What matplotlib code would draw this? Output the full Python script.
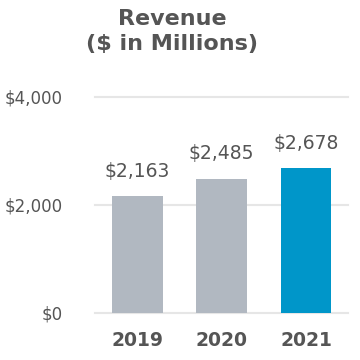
import matplotlib.pyplot as plt
import numpy as np

years = ['2019', '2020', '2021']
revenue = [2163, 2485, 2678]
bar_colors = ['#B1B8C1', '#B1B8C1', '#0096C9']
yticks = [0, 2000, 4000]
ytick_labels = ['$0', '$2,000', '$4,000']

text_color = '#555555'

fig = plt.figure(figsize=(3.6, 3.6), dpi=100)
ax = fig.add_axes([0.264, 0.131, 0.703, 0.6])

x = np.arange(len(years))
bars = ax.bar(x, revenue, width=0.6, color=bar_colors, zorder=3)

ax.set_xlim(-0.5, 2.5)
ax.set_ylim(0, 4000)
ax.set_yticks(yticks)
ax.set_yticklabels(ytick_labels)
ax.set_xticks(x)
ax.set_xticklabels(years, fontweight='bold', fontsize=13.5, color=text_color)

for v in yticks:
    ax.axhline(v, color='#E6E6E6', linewidth=1.5, zorder=1, clip_on=False)

ax.tick_params(axis='y', length=0, pad=23, labelsize=12, labelcolor=text_color)
ax.tick_params(axis='x', length=0, pad=13)
for s in ax.spines.values():
    s.set_visible(False)

for b, v in zip(bars, revenue):
    ax.annotate(f'${v:,}', (b.get_x() + b.get_width() / 2, v),
                xytext=(0, 11), textcoords='offset points',
                ha='center', va='bottom', fontsize=13.5, color=text_color)

fig.text(0.478, 0.975, 'Revenue\n($ in Millions)', ha='center', va='top',
         fontsize=16, fontweight='bold', color=text_color, linespacing=1.3)

fig.savefig('out.png', dpi=100)
